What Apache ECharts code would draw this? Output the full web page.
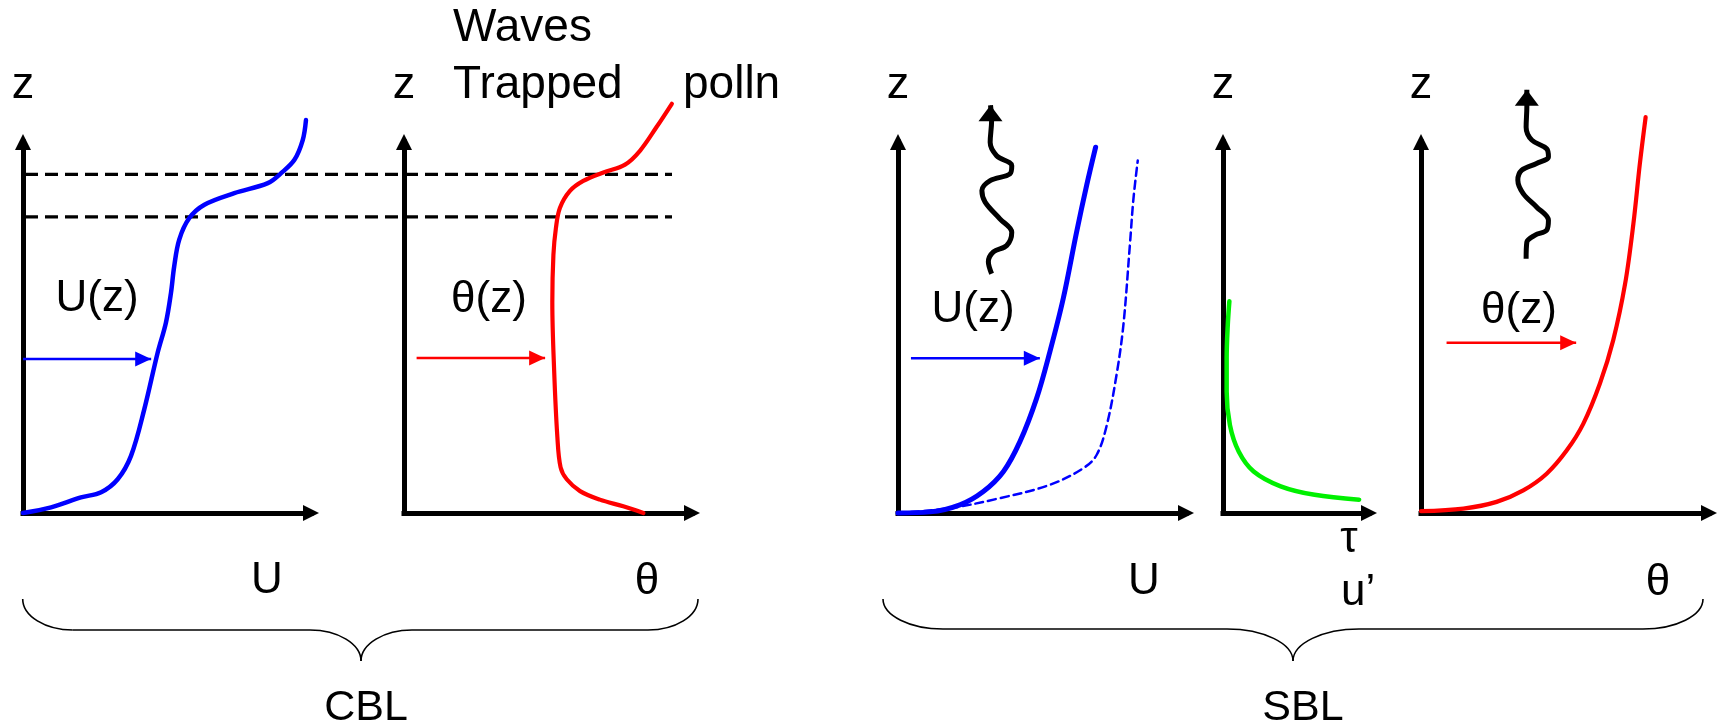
<!DOCTYPE html>
<html>
<head>
<meta charset="utf-8">
<script src="https://cdn.jsdelivr.net/npm/echarts@6/dist/echarts.min.js"></script>
<style>html,body{margin:0;padding:0;background:#fff}#chart{width:1719px;height:726px}</style>
</head>
<body>
<div id="chart"></div>
<script>
// ---- Profile data (x: quantity in arbitrary units, z: height in arbitrary units) ----
// Convective boundary layer: mean wind and potential temperature
const cblWind = [[0,0],[0.78,0.15],[1.61,0.42],[2.17,0.56],[2.63,0.91],[3.0,1.54],[3.37,2.8],[3.74,4.32],[3.97,5.13],[4.11,5.93],[4.2,6.65],[4.34,7.37],[4.62,7.95],[5.04,8.31],[5.87,8.62],[6.8,8.89],[7.17,9.16],[7.54,9.52],[7.77,10.05],[7.86,10.59]];
const cblTheta = [[6.65,0],[6.09,0.18],[5.44,0.36],[4.89,0.59],[4.52,0.91],[4.35,1.23],[4.26,2.05],[4.17,3.86],[4.12,5.68],[4.15,6.95],[4.22,7.68],[4.33,8.22],[4.61,8.68],[4.98,8.95],[5.54,9.18],[6.14,9.39],[6.56,9.77],[7.02,10.41],[7.44,11.03]];
// Entrainment zone bounds (dashed levels)
const inversionLevels = [7.98, 9.13];
// Stable boundary layer: wind (solid and dashed), stress / u', potential temperature
const sblWind = [[0,0],[0.89,0.03],[1.72,0.22],[2.37,0.58],[2.93,1.12],[3.39,1.93],[3.85,3.09],[4.22,4.35],[4.59,5.78],[4.96,7.57],[5.24,8.83],[5.49,9.86]];
const sblWindDashed = [[0,0],[1.44,0.13],[2.83,0.4],[4.22,0.76],[5.15,1.21],[5.52,1.57],[5.8,2.37],[6.07,3.72],[6.26,5.06],[6.44,7.21],[6.54,8.47],[6.66,9.5]];
const sblStress = [[0.175,5.71],[0.13,5.06],[0.1,4.17],[0.1,3.27],[0.19,2.37],[0.43,1.66],[0.84,1.12],[1.58,0.72],[2.51,0.49],[3.73,0.36]];
const sblTheta = [[0,0.05],[1.18,0.12],[2.1,0.3],[2.84,0.61],[3.49,1.06],[4.05,1.69],[4.51,2.41],[4.97,3.49],[5.34,4.66],[5.67,6.18],[5.9,7.8],[6.08,9.42],[6.24,10.67]];
// Upward-propagating gravity waves (wavy arrows), last point is the arrow tip
const sblWaveWind = [[2.6,6.45],[2.51,6.77],[2.65,7.04],[3.02,7.21],[3.16,7.57],[2.83,7.93],[2.42,8.38],[2.33,8.69],[2.56,8.96],[3.11,9.14],[3.16,9.36],[2.74,9.63],[2.56,9.99],[2.6,10.57],[2.57,10.99]];
const sblWaveTheta = [[2.92,6.85],[2.94,7.3],[3.17,7.49],[3.49,7.62],[3.54,7.89],[3.21,8.25],[2.84,8.61],[2.69,8.97],[2.8,9.24],[3.21,9.42],[3.54,9.6],[3.49,9.82],[3.08,10.05],[2.92,10.4],[2.94,10.95],[2.94,11.41]];
// Profile arrows (start, tip)
const cblWindArrow = [[0,4.15],[3.56,4.15]];
const cblThetaArrow = [[0.35,4.18],[3.92,4.18]];
const sblWindArrow = [[0.36,4.17],[3.94,4.17]];
const sblThetaArrow = [[0.71,4.59],[4.31,4.59]];
// Axis extents per panel
const zMax = 10;
const xMaxes = [8, 8, 8, 4, 8];

// ---- Layout ----
const FONT = '"Liberation Sans", Arial, sans-serif';
const panels = [
  {left: 23, width: 288},
  {left: 404, width: 288},
  {left: 898, width: 288},
  {left: 1223, width: 146},
  {left: 1421, width: 288}
];
const gridTop = 142, gridHeight = 371;

const grids = panels.map(p => ({left: p.left, top: gridTop, width: p.width, height: gridHeight, containLabel: false}));
// overlay spanning both CBL panels for the entrainment-zone levels
grids.push({left: 25, top: gridTop, width: 647, height: gridHeight, containLabel: false});

const axisLine = {show: true, onZero: false, symbol: ['none', 'triangle'], symbolSize: [16, 16],
  lineStyle: {color: '#000', width: 5, cap: 'square'}};
const xAxes = panels.map((p, i) => ({type: 'value', gridIndex: i, min: 0, max: xMaxes[i], axisLine,
  axisTick: {show: false}, axisLabel: {show: false}, splitLine: {show: false}}));
const yAxes = panels.map((p, i) => ({type: 'value', gridIndex: i, min: 0, max: zMax, axisLine,
  axisTick: {show: false}, axisLabel: {show: false}, splitLine: {show: false}}));
xAxes.push({type: 'value', gridIndex: 5, min: 0, max: 1, show: false});
yAxes.push({type: 'value', gridIndex: 5, min: 0, max: zMax, show: false});

function curve(data, g, color, width, type) {
  return {type: 'line', xAxisIndex: g, yAxisIndex: g, data, smooth: 0.35, symbol: 'none', clip: false,
    silent: true, lineStyle: {color, width, type: type || 'solid', cap: 'round'}};
}
function arrow(points, g, color, width, head, rotate, offset, smooth) {
  const data = points.map((p, i) => i === points.length - 1
    ? {value: p, symbol: 'triangle', symbolSize: head, symbolRotate: rotate, symbolOffset: offset}
    : {value: p, symbol: 'none'});
  return {type: 'line', xAxisIndex: g, yAxisIndex: g, data, smooth: smooth || false, showSymbol: true,
    clip: false, silent: true, itemStyle: {color}, lineStyle: {color, width, cap: 'butt'}};
}

const series = [
  ...inversionLevels.map(z => ({type: 'line', xAxisIndex: 5, yAxisIndex: 5, data: [[0, z], [1, z]],
    symbol: 'none', silent: true, lineStyle: {color: '#000', width: 3.3, type: [13, 7]}})),
  curve(cblWind, 0, '#0000ff', 4.5),
  curve(cblTheta, 1, '#ff0000', 4.2),
  curve(sblWindDashed, 2, '#0000ff', 2.5, [8, 5]),
  curve(sblWind, 2, '#0000ff', 5),
  curve(sblStress, 3, '#00f000', 4.5),
  curve(sblTheta, 4, '#ff0000', 4.2),
  arrow(cblWindArrow, 0, '#0000ff', 2.5, [15, 16], -90, [-8, 0]),
  arrow(cblThetaArrow, 1, '#ff0000', 2.5, [15, 16], -90, [-8, 0]),
  arrow(sblWindArrow, 2, '#0000ff', 2.5, [15, 16], -90, [-8, 0]),
  arrow(sblThetaArrow, 4, '#ff0000', 2.5, [15, 16], -90, [-8, 0]),
  arrow(sblWaveWind, 2, '#000', 5, [24, 16], 0, [0, 8], 0.35),
  arrow(sblWaveTheta, 4, '#000', 5, [24, 16], 0, [0, 8], 0.35)
];

// ---- Annotations ----
function txt(str, x, baseline, size, align) {
  return {type: 'text', x, y: baseline - 0.35 * size, silent: true,
    style: {text: str, fill: '#000', font: size + 'px ' + FONT,
      align: align || 'center', verticalAlign: 'middle',
      textAlign: align || 'center', textVerticalAlign: 'middle'}};
}
// Curly brace built from cubic segments and straight runs
function brace(x0, xm, x1, yEnd, yBar, yTip, rEnd, rMid) {
  const k = 0.55;
  const st = {fill: 'none', stroke: '#000', lineWidth: 1.6};
  const bz = (a, b, c, d) => ({type: 'bezierCurve', silent: true, style: st,
    shape: {x1: a[0], y1: a[1], cpx1: b[0], cpy1: b[1], cpx2: c[0], cpy2: c[1], x2: d[0], y2: d[1]}});
  const ln = (a, b) => ({type: 'line', silent: true, style: st, shape: {x1: a[0], y1: a[1], x2: b[0], y2: b[1]}});
  const dyE = k * (yBar - yEnd), dyT = k * (yTip - yBar);
  return {type: 'group', children: [
    bz([x0, yEnd], [x0, yEnd + dyE], [x0 + rEnd * (1 - k), yBar], [x0 + rEnd, yBar]),
    ln([x0 + rEnd, yBar], [xm - rMid, yBar]),
    bz([xm - rMid, yBar], [xm - rMid * (1 - k), yBar], [xm, yTip - dyT], [xm, yTip]),
    bz([xm, yTip], [xm, yTip - dyT], [xm + rMid * (1 - k), yBar], [xm + rMid, yBar]),
    ln([xm + rMid, yBar], [x1 - rEnd, yBar]),
    bz([x1 - rEnd, yBar], [x1 - rEnd * (1 - k), yBar], [x1, yEnd + dyE], [x1, yEnd])
  ]};
}

const graphic = [
  txt('z', 23, 101, 45), txt('z', 404, 101, 45), txt('z', 898, 101, 45), txt('z', 1223, 101, 45), txt('z', 1421, 101, 45),
  txt('Waves', 453, 44, 46, 'left'), txt('Trapped', 453, 101, 46, 'left'), txt('polln', 683, 101, 46, 'left'),
  txt('U(z)', 97, 314, 44), txt('θ(z)', 489, 315, 44), txt('U(z)', 973, 325, 44), txt('θ(z)', 1519, 326, 44),
  txt('U', 267, 596, 44), txt('θ', 647, 597, 44), txt('U', 1144, 597, 44),
  txt('τ', 1349, 555, 44), txt('u’', 1341, 608, 44, 'left'), txt('θ', 1658, 598, 44),
  txt('CBL', 366, 723, 43), txt('SBL', 1303, 723, 43),
  brace(22.7, 361, 698, 599, 630, 661, 50, 51),
  brace(883, 1293, 1703, 599, 629, 661, 60, 66)
];

const chart = echarts.init(document.getElementById('chart'), null, {renderer: 'canvas'});
chart.setOption({
  animation: false,
  backgroundColor: '#fff',
  textStyle: {fontFamily: FONT},
  grid: grids,
  xAxis: xAxes,
  yAxis: yAxes,
  series,
  graphic
});
</script>
</body>
</html>
